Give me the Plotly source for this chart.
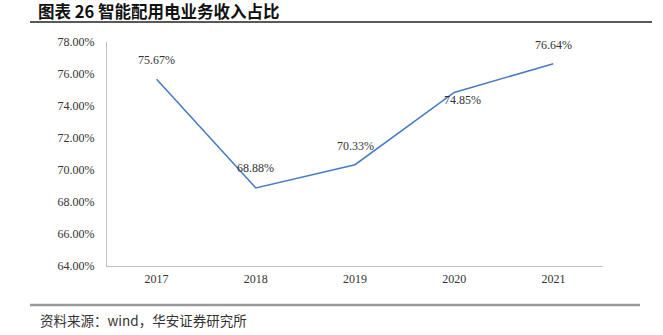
import plotly.graph_objects as go

years = ["2017", "2018", "2019", "2020", "2021"]
share = [75.67, 68.88, 70.33, 74.85, 76.64]
y_ticks = [64, 66, 68, 70, 72, 74, 76, 78]
title_text = "图表 26 智能配用电业务收入占比"
source_text = "资料来源：wind，华安证券研究所"

W, H = 663, 335
L, R, T, B = 107, 60, 42, 69
pw, ph = W - L - R, H - T - B

def px_x(x):
    return (x - L) / pw

def px_y(y):
    return (H - B - y) / ph

fig = go.Figure()
fig.add_trace(go.Scatter(
    x=years, y=share, mode="lines",
    line=dict(color="#4A7CC3", width=1.6),
    hoverinfo="skip", showlegend=False,
))

label_shift = [(0, 19), (0, 20), (0, 19), (8, -8), (0, 19)]
for i, (v, (dx, dy)) in enumerate(zip(share, label_shift)):
    fig.add_annotation(
        x=i, y=v, text=f"{v:.2f}%", showarrow=False,
        xshift=dx, yshift=dy,
        font=dict(family="Liberation Serif", size=12, color="#333333"),
    )

fig.add_annotation(
    x=px_x(36), y=px_y(11), xref="paper", yref="paper",
    text=f"<b>{title_text}</b>", showarrow=False,
    xanchor="left", yanchor="middle",
    font=dict(family="Noto Sans CJK SC", size=16.5, color="#111111"),
)
fig.add_annotation(
    x=px_x(38), y=px_y(320), xref="paper", yref="paper",
    text=source_text, showarrow=False,
    xanchor="left", yanchor="middle",
    font=dict(family="Noto Sans CJK SC", size=13.5, color="#333333"),
)
fig.add_shape(type="line", xref="paper", yref="paper",
              x0=px_x(30), x1=px_x(652), y0=px_y(22), y1=px_y(22),
              line=dict(color="#222222", width=1.4))
fig.add_shape(type="line", xref="paper", yref="paper",
              x0=px_x(30), x1=px_x(640), y0=px_y(305), y1=px_y(305),
              line=dict(color="#999999", width=2.5))

fig.update_layout(
    width=W, height=H,
    margin=dict(l=L, r=R, t=T, b=B),
    paper_bgcolor="white", plot_bgcolor="white",
    font=dict(family="Liberation Serif", size=12, color="#333333"),
)
fig.update_xaxes(
    type="category", range=[-0.5, len(years) - 0.5],
    showgrid=False, zeroline=False,
    showline=True, linecolor="#BFBFBF", linewidth=1.2,
    ticks="", ticklabelstandoff=1,
    tickfont=dict(family="Liberation Serif", size=12, color="#333333"),
)
fig.update_yaxes(
    range=[64, 78], tickvals=y_ticks,
    ticktext=[f"{t:.2f}%" for t in y_ticks],
    showgrid=False, zeroline=False,
    showline=True, linecolor="#BFBFBF", linewidth=1.2,
    ticks="", ticklabelstandoff=9,
    tickfont=dict(family="Liberation Serif", size=12, color="#333333"),
)

fig.write_html("out.html")
